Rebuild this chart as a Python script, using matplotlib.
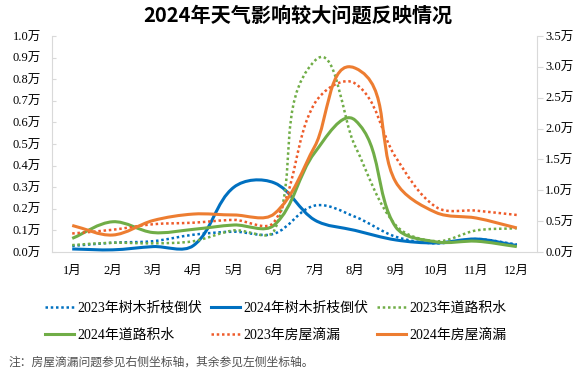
import numpy as np
import matplotlib
matplotlib.use("Agg")
import matplotlib.pyplot as plt
from matplotlib.path import Path
from matplotlib.patches import PathPatch
from matplotlib.lines import Line2D

plt.rcParams['font.family'] = ['Liberation Serif', 'Noto Sans CJK SC']

# data (万)
months = ['1月', '2月', '3月', '4月', '5月', '6月', '7月', '8月', '9月', '10月', '11月', '12月']
tree_2023 = [0.028, 0.043, 0.05, 0.08, 0.094, 0.085, 0.215, 0.163, 0.071, 0.04, 0.06, 0.035]
tree_2024 = [0.014, 0.01, 0.025, 0.03, 0.30, 0.32, 0.148, 0.10, 0.056, 0.042, 0.06, 0.03]
road_2023 = [0.032, 0.043, 0.04, 0.05, 0.10, 0.10, 0.885, 0.49, 0.125, 0.05, 0.10, 0.11]
road_2024 = [0.063, 0.14, 0.09, 0.105, 0.125, 0.125, 0.46, 0.61, 0.117, 0.047, 0.05, 0.025]
house_2023 = [0.30, 0.36, 0.45, 0.475, 0.52, 0.49, 2.41, 2.73, 1.54, 0.73, 0.67, 0.60]  # right axis
house_2024 = [0.43, 0.275, 0.51, 0.615, 0.60, 0.62, 1.71, 2.98, 1.14, 0.64, 0.55, 0.39]  # right axis

left_ticks = np.arange(0, 1.01, 0.1)
right_ticks = np.arange(0, 3.51, 0.5)

BLUE = '#0070C0'
GREEN = '#70AD47'
ORANGE = '#ED7D31'
ORANGE_DOT = '#EE5B2A'
DOT = (0, (1, 1.1))


def smooth_path(ax, ys, t=0.33):
    # excel-like smoothed line, bezier handles scaled by segment length (in pixels)
    pts = ax.transData.transform(np.column_stack([np.arange(len(ys)), ys]))
    n = len(pts)
    tang = []
    for i in range(n):
        d = pts[min(i + 1, n - 1)] - pts[max(i - 1, 0)]
        tang.append(d / np.hypot(*d))
    verts, codes = [pts[0]], [Path.MOVETO]
    for i in range(n - 1):
        seg = np.hypot(*(pts[i + 1] - pts[i]))
        verts += [pts[i] + tang[i] * seg * t, pts[i + 1] - tang[i + 1] * seg * t, pts[i + 1]]
        codes += [Path.CURVE4] * 3
    verts = ax.transData.inverted().transform(np.array(verts))
    return Path(verts, codes)


def draw(ax, ys, color, ls, lw):
    ax.add_patch(PathPatch(smooth_path(ax, ys), facecolor='none', edgecolor=color,
                           linestyle=ls, linewidth=lw, joinstyle='round'))


fig = plt.figure(figsize=(5.88, 3.84), dpi=100)
ax = fig.add_axes([52 / 588, 1 - 252 / 384, 485 / 588, 216 / 384])
ax2 = ax.twinx()

ax.set_xlim(-0.5, 11.5)
ax2.set_xlim(-0.5, 11.5)
ax.set_ylim(0, 1.0)
ax2.set_ylim(0, 3.5)

series = [
    (ax, tree_2023, BLUE, DOT, 1.8, '2023年树木折枝倒伏'),
    (ax, tree_2024, BLUE, '-', 2.2, '2024年树木折枝倒伏'),
    (ax, road_2023, GREEN, DOT, 1.8, '2023年道路积水'),
    (ax, road_2024, GREEN, '-', 2.2, '2024年道路积水'),
    (ax2, house_2023, ORANGE_DOT, DOT, 1.8, '2023年房屋滴漏'),
    (ax2, house_2024, ORANGE, '-', 2.2, '2024年房屋滴漏'),
]
handles = []
for a, ys, c, ls, lw, lab in series:
    draw(a, ys, c, ls, lw)
    handles.append(Line2D([], [], color=c, linestyle=ls, linewidth=lw, label=lab))

ax.set_xticks(range(len(months)))
ax.set_xticklabels(months, fontsize=9)
ax.set_yticks(left_ticks)
ax.set_yticklabels([f'{v:.1f}万' for v in left_ticks], fontsize=9)
ax2.set_yticks(right_ticks)
ax2.set_yticklabels([f'{v:.1f}万' for v in right_ticks], fontsize=9)

for a in (ax, ax2):
    for s in a.spines.values():
        s.set_color('#D9D9D9')
    a.spines['top'].set_visible(False)
ax.spines['right'].set_visible(False)
ax2.spines['left'].set_visible(False)
ax2.spines['bottom'].set_visible(False)
ax.tick_params(axis='x', length=0, pad=9)
ax.tick_params(axis='y', direction='in', length=3, color='#D9D9D9', pad=8)
ax2.tick_params(axis='y', direction='out', length=4, color='#D9D9D9', pad=2)

fig.text(0.507, 0.961, '2024年天气影响较大问题反映情况', ha='center', va='center',
         fontsize=14.5, fontweight='bold', family=['Noto Sans CJK SC'])

# legend is filled column by column, so reorder to read row by row
order = [0, 3, 1, 4, 2, 5]
fig.legend(handles=[handles[i] for i in order], ncol=3, loc='center left',
           bbox_to_anchor=(45 / 588, 1 - 322 / 384), frameon=False, fontsize=10,
           borderpad=0, borderaxespad=0, handlelength=2.1, handletextpad=0.25,
           columnspacing=0.6, labelspacing=0.95)

fig.text(8 / 588, 1 - 362 / 384, '注：房屋滴漏问题参见右侧坐标轴，其余参见左侧坐标轴。',
         ha='left', va='center', fontsize=8.5, color='#505050',
         family=['Noto Sans CJK SC'])

fig.savefig('out.png', dpi=100)
